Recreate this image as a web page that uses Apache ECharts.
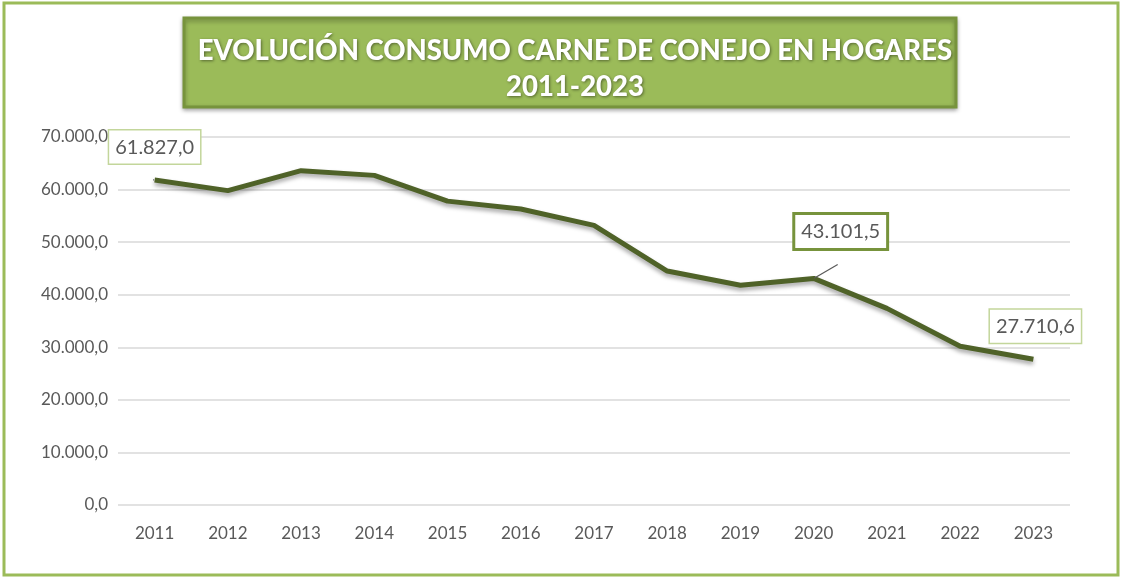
<!DOCTYPE html>
<html>
<head>
<meta charset="utf-8">
<script src="https://cdn.jsdelivr.net/npm/echarts@6/dist/echarts.min.js"></script>
<style>
  html, body { margin: 0; padding: 0; background: #fff; }
  #main { width: 1122px; height: 578px; }
</style>
</head>
<body>
<div id="main"></div>
<script>
// datos
var years = ['2011', '2012', '2013', '2014', '2015', '2016', '2017', '2018', '2019', '2020', '2021', '2022', '2023'];
var consumo = [61827.0, 59800, 63600, 62700, 57800, 56300, 53200, 44500, 41800, 43101.5, 37400, 30200, 27710.6];

function fmt(v) {
  var s = v.toFixed(1).split('.');
  return s[0].replace(/\B(?=(\d{3})+(?!\d))/g, '.') + ',' + s[1];
}

var chart = echarts.init(document.getElementById('main'));

var seriesData = consumo.map(function (v, i) {
  var item = { value: v };
  if (i === 0) {
    item.label = { show: true, offset: [0, -2] };
  } else if (i === 9) {
    item.label = {
      show: true, offset: [27, -16],
      borderColor: '#77933c', borderWidth: 3
    };
  } else if (i === 12) {
    item.label = { show: true, offset: [2, -2] };
  }
  return item;
});

var option = {
  animation: false,
  backgroundColor: '#fff',
  title: {
    text: 'EVOLUCIÓN CONSUMO CARNE DE CONEJO EN HOGARES\n2011-2023',
    left: 570,
    top: 28,
    textAlign: 'center',
    textStyle: {
      fontFamily: 'Lato, sans-serif',
      fontWeight: 900,
      fontSize: 27.5,
      lineHeight: 36,
      color: '#fff',
      textShadowColor: 'rgba(0,0,0,0.45)',
      textShadowBlur: 3,
      textShadowOffsetX: 1,
      textShadowOffsetY: 1
    }
  },
  graphic: [
    {
      type: 'rect', z: -1,
      shape: { x: 4, y: 3, width: 1114, height: 572 },
      style: { fill: 'none', stroke: '#9bbb59', lineWidth: 3 }
    },
    {
      type: 'rect', z: -1,
      shape: { x: 184, y: 18, width: 772, height: 89 },
      style: { fill: '#9bbb59', stroke: '#77933c', lineWidth: 3,
        shadowColor: 'rgba(0,0,0,0.3)', shadowBlur: 4, shadowOffsetY: 2 }
    }
  ],
  grid: { left: 118, right: 52, top: 137, bottom: 73 },
  xAxis: {
    type: 'category',
    data: years,
    axisLine: { show: false },
    axisTick: { show: false },
    axisLabel: { color: '#595959', fontSize: 17, fontFamily: 'Lato, sans-serif', margin: 20 }
  },
  yAxis: {
    type: 'value',
    min: 0, max: 70000, interval: 10000,
    axisLabel: {
      color: '#595959', fontSize: 17, fontFamily: 'Lato, sans-serif', margin: 10,
      formatter: function (v) { return fmt(v); }
    },
    splitLine: { lineStyle: { color: '#d9d9d9', width: 1.5 } }
  },
  series: [{
    type: 'line',
    data: seriesData,
    showSymbol: true,
    symbol: 'circle',
    symbolSize: 1,
    itemStyle: { color: 'transparent' },
    lineStyle: {
      color: '#4f6228', width: 5,
      shadowColor: 'rgba(0,0,0,0.35)', shadowBlur: 4, shadowOffsetY: 3
    },
    label: {
      show: false,
      position: 'top',
      distance: 14,
      formatter: function (p) { return fmt(p.value); },
      color: '#595959',
      fontSize: 20,
      fontFamily: 'Lato, sans-serif',
      backgroundColor: '#fff',
      borderColor: '#c3d69b',
      borderWidth: 1.5,
      padding: [7, 6, 6, 6]
    },
    labelLine: { show: true, lineStyle: { color: '#595959', width: 1.2 } }
  }]
};

chart.setOption(option);
</script>
</body>
</html>
